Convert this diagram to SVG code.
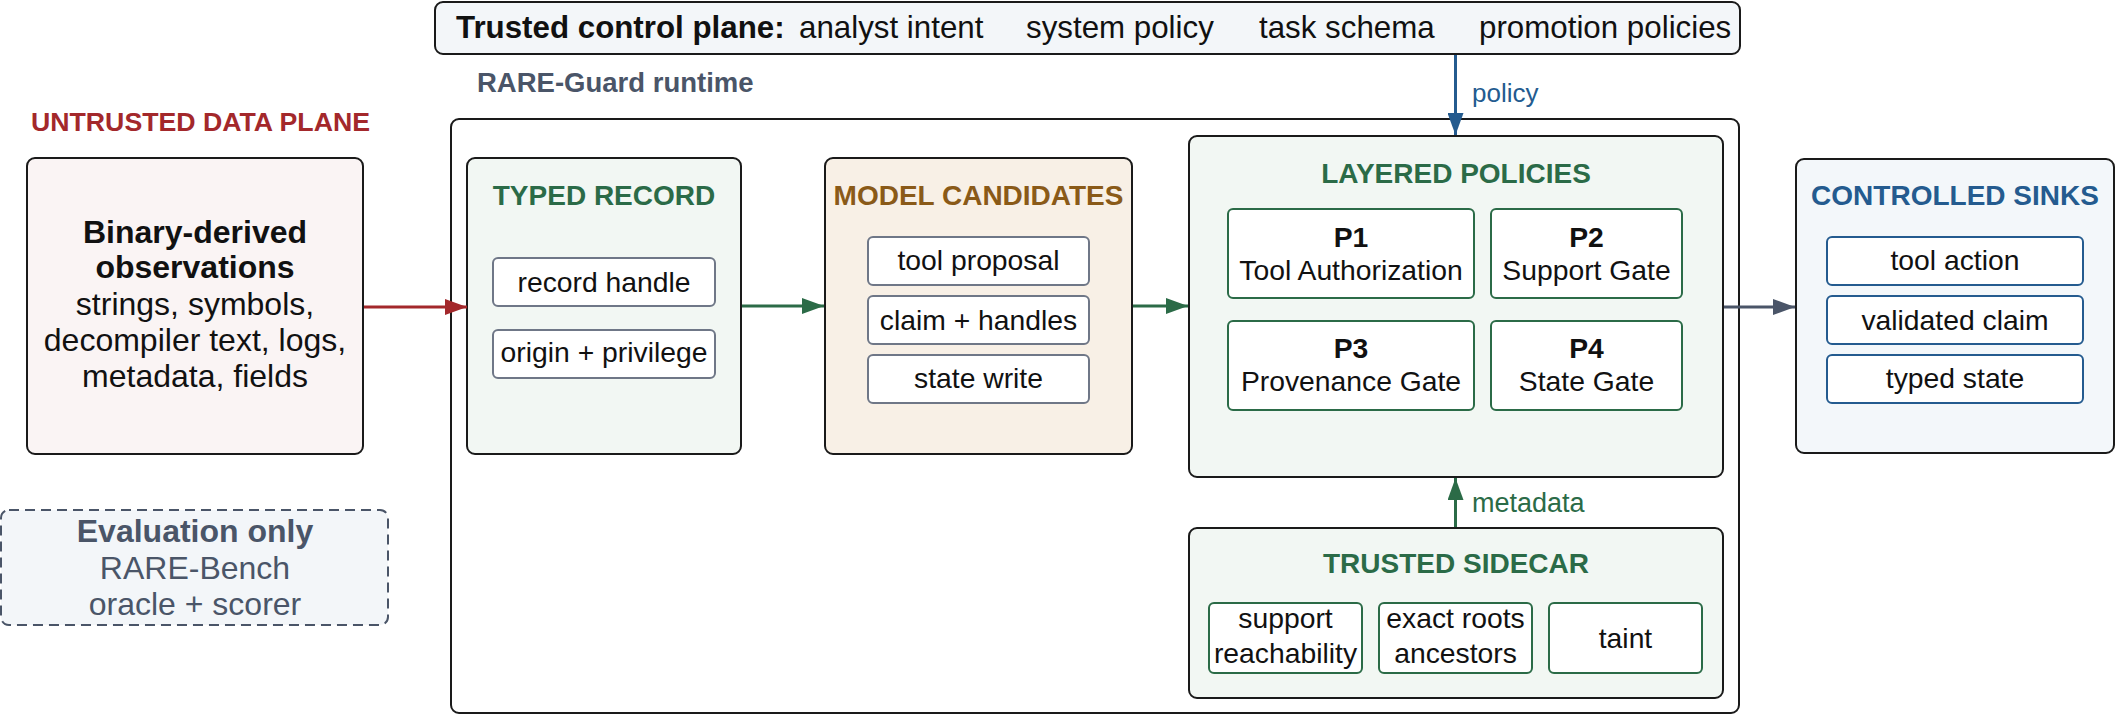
<svg xmlns="http://www.w3.org/2000/svg" width="2116" height="716" viewBox="0 0 2116 716">
<defs>
<style>
text{font-family:"Liberation Sans",Arial,Helvetica,sans-serif;}
.frame{stroke:#1a1a1a;stroke-width:2;}
.t{font-size:28.3px;fill:#111;text-anchor:middle;}
.b{font-weight:bold;}
.h{font-size:28px;font-weight:bold;text-anchor:middle;}
.lg{font-size:32px;text-anchor:middle;}
.top{font-size:31.3px;fill:#111;}
.sub-g{fill:#fff;stroke:#6f7787;stroke-width:2;}
.sub-gr{fill:#fff;stroke:#2b6b47;stroke-width:2;}
.sub-b{fill:#fff;stroke:#245b8f;stroke-width:2;}
.conn{fill:none;stroke-width:3;}
</style>
<marker id="ar-red" markerUnits="userSpaceOnUse" markerWidth="22" markerHeight="16" refX="22" refY="8" orient="auto"><path d="M0,0 L22,8 L0,16 z" fill="#a3282b"/></marker>
<marker id="ar-green" markerUnits="userSpaceOnUse" markerWidth="22" markerHeight="16" refX="22" refY="8" orient="auto"><path d="M0,0 L22,8 L0,16 z" fill="#2b6b47"/></marker>
<marker id="ar-gray" markerUnits="userSpaceOnUse" markerWidth="22" markerHeight="16" refX="22" refY="8" orient="auto"><path d="M0,0 L22,8 L0,16 z" fill="#4a5568"/></marker>
<marker id="ar-blue" markerUnits="userSpaceOnUse" markerWidth="22" markerHeight="16" refX="22" refY="8" orient="auto"><path d="M0,0 L22,8 L0,16 z" fill="#245b8f"/></marker>
</defs>
<rect width="2116" height="716" fill="#fff"/>

<g id="control-plane">
<rect class="frame" x="435" y="2" width="1305" height="52" rx="8" fill="#f3f6f9"/>
<text class="top" x="456" y="38" font-weight="bold" font-size="32">Trusted control plane:</text>
<text class="top" x="799" y="38">analyst intent</text>
<text class="top" x="1026" y="38">system policy</text>
<text class="top" x="1259" y="38">task schema</text>
<text class="top" x="1479" y="38">promotion policies</text>
</g>

<g id="labels">
<text x="477" y="92" style="font-size:27.5px;font-weight:bold;fill:#4a5568">RARE-Guard runtime</text>
<text x="31" y="131" style="font-size:26.7px;font-weight:bold;fill:#a3282b">UNTRUSTED DATA PLANE</text>
</g>

<g id="runtime">
<rect class="frame" x="451" y="119" width="1288" height="594" rx="8" fill="#fff"/>
</g>

<g id="observations">
<rect class="frame" x="27" y="158" width="336" height="296" rx="8" fill="#faf4f4"/>
<text class="lg b" x="195" y="243" fill="#111">Binary-derived</text>
<text class="lg b" x="195" y="278" fill="#111">observations</text>
<text class="lg" x="195" y="315" fill="#111">strings, symbols,</text>
<text class="lg" x="195" y="351" fill="#111">decompiler text, logs,</text>
<text class="lg" x="195" y="387" fill="#111">metadata, fields</text>
</g>

<g id="evaluation">
<rect x="1" y="510" width="387" height="115" rx="8" fill="#f3f6f9" stroke="#4a5568" stroke-width="2" stroke-dasharray="10 6"/>
<text class="lg b" x="195" y="542" fill="#4a5568">Evaluation only</text>
<text class="lg" x="195" y="579" fill="#4a5568">RARE-Bench</text>
<text class="lg" x="195" y="615" fill="#4a5568">oracle + scorer</text>
</g>

<g id="typed-record">
<rect class="frame" x="467" y="158" width="274" height="296" rx="8" fill="#f2f7f3"/>
<text class="h" x="604" y="205" fill="#2b6b47">TYPED RECORD</text>
<rect class="sub-g" x="493" y="258" width="222" height="48" rx="5"/>
<text class="t" x="604" y="292">record handle</text>
<rect class="sub-g" x="493" y="330" width="222" height="48" rx="5"/>
<text class="t" x="604" y="362">origin + privilege</text>
</g>

<g id="model-candidates">
<rect class="frame" x="825" y="158" width="307" height="296" rx="8" fill="#f8f0e6"/>
<text class="h" x="978.5" y="205" fill="#8a5a18">MODEL CANDIDATES</text>
<rect class="sub-g" x="868" y="237" width="221" height="48" rx="5"/>
<text class="t" x="978.5" y="270">tool proposal</text>
<rect class="sub-g" x="868" y="296" width="221" height="48" rx="5"/>
<text class="t" x="978.5" y="330">claim + handles</text>
<rect class="sub-g" x="868" y="355" width="221" height="48" rx="5"/>
<text class="t" x="978.5" y="388">state write</text>
</g>

<g id="layered-policies">
<rect class="frame" x="1189" y="136" width="534" height="341" rx="8" fill="#f2f7f3"/>
<text class="h" x="1456" y="183" fill="#2b6b47">LAYERED POLICIES</text>
<rect class="sub-gr" x="1228" y="209" width="246" height="89" rx="5"/>
<text class="t b" x="1351" y="247">P1</text>
<text class="t" x="1351" y="280">Tool Authorization</text>
<rect class="sub-gr" x="1491" y="209" width="191" height="89" rx="5"/>
<text class="t b" x="1586.5" y="247">P2</text>
<text class="t" x="1586.5" y="280">Support Gate</text>
<rect class="sub-gr" x="1228" y="321" width="246" height="89" rx="5"/>
<text class="t b" x="1351" y="358">P3</text>
<text class="t" x="1351" y="391">Provenance Gate</text>
<rect class="sub-gr" x="1491" y="321" width="191" height="89" rx="5"/>
<text class="t b" x="1586.5" y="358">P4</text>
<text class="t" x="1586.5" y="391">State Gate</text>
</g>

<g id="trusted-sidecar">
<rect class="frame" x="1189" y="528" width="534" height="170" rx="8" fill="#f2f7f3"/>
<text class="h" x="1456" y="573" fill="#2b6b47">TRUSTED SIDECAR</text>
<rect class="sub-gr" x="1209" y="603" width="153" height="70" rx="5"/>
<text class="t" x="1285.5" y="628">support</text>
<text class="t" x="1285.5" y="663">reachability</text>
<rect class="sub-gr" x="1379" y="603" width="153" height="70" rx="5"/>
<text class="t" x="1455.5" y="628">exact roots</text>
<text class="t" x="1455.5" y="663">ancestors</text>
<rect class="sub-gr" x="1549" y="603" width="153" height="70" rx="5"/>
<text class="t" x="1625.5" y="648">taint</text>
</g>

<g id="controlled-sinks">
<rect class="frame" x="1796" y="159" width="318" height="294" rx="8" fill="#f3f7fa"/>
<text class="h" x="1955" y="205" fill="#245b8f">CONTROLLED SINKS</text>
<rect class="sub-b" x="1827" y="237" width="256" height="48" rx="5"/>
<text class="t" x="1955" y="270">tool action</text>
<rect class="sub-b" x="1827" y="296" width="256" height="48" rx="5"/>
<text class="t" x="1955" y="330">validated claim</text>
<rect class="sub-b" x="1827" y="355" width="256" height="48" rx="5"/>
<text class="t" x="1955" y="388">typed state</text>
</g>

<g id="connectors">
<line class="conn" x1="364" y1="307" x2="467" y2="307" stroke="#a3282b" marker-end="url(#ar-red)"/>
<line class="conn" x1="742" y1="306" x2="824" y2="306" stroke="#2b6b47" marker-end="url(#ar-green)"/>
<line class="conn" x1="1133" y1="306" x2="1188" y2="306" stroke="#2b6b47" marker-end="url(#ar-green)"/>
<line class="conn" x1="1724" y1="307" x2="1795" y2="307" stroke="#4a5568" marker-end="url(#ar-gray)"/>
<line class="conn" x1="1455.5" y1="55" x2="1455.5" y2="135" stroke="#245b8f" marker-end="url(#ar-blue)"/>
<text x="1472" y="102" style="font-size:26px;fill:#245b8f">policy</text>
<line class="conn" x1="1455.5" y1="527" x2="1455.5" y2="478" stroke="#2b6b47" marker-end="url(#ar-green)"/>
<text x="1472" y="512" style="font-size:27px;fill:#2b6b47">metadata</text>
</g>
</svg>
